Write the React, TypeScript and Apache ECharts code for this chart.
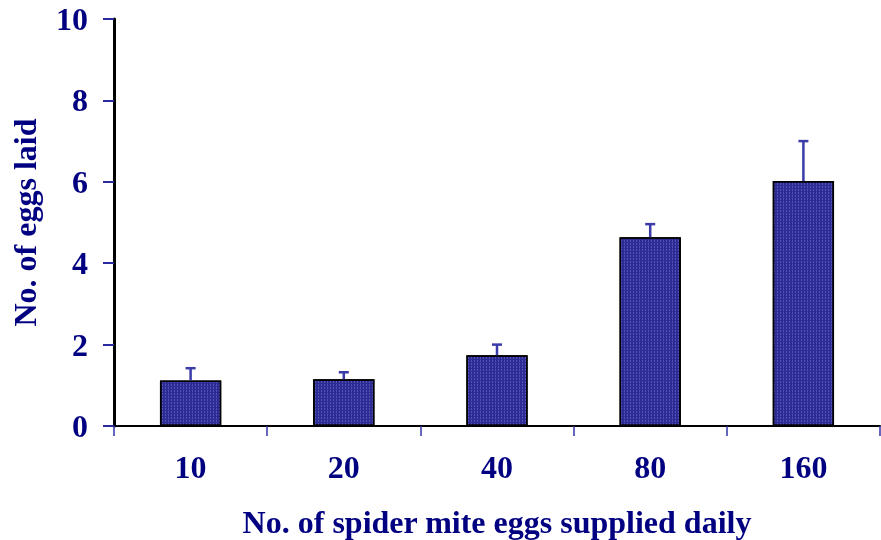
import React, { useEffect, useRef } from "react";
import * as echarts from "echarts";

const categories = ["10", "20", "40", "80", "160"];
const means = [1.12, 1.15, 1.74, 4.64, 6.02];
const errorTops = [1.42, 1.32, 2.0, 4.96, 7.0];
const yTicks = [0, 2, 4, 6, 8, 10];

const NAVY = "#000080";
const FONT = "Liberation Serif";

export default function App() {
  const ref = useRef<HTMLDivElement>(null);
  useEffect(() => {
    if (!ref.current) return;
    const chart = echarts.init(ref.current, undefined, { renderer: "svg" });
    const errData = categories.map((c, i) => [i, means[i], errorTops[i]]);
    chart.setOption({
      animation: false,
      grid: { left: 114, top: 19, right: 1, bottom: 114, containLabel: false, outerBoundsMode: "none" },
      xAxis: {
        type: "category",
        data: categories,
        boundaryGap: true,
        name: "No. of spider mite eggs supplied daily",
        nameLocation: "middle",
        nameGap: 80,
        nameTextStyle: { fontFamily: FONT, fontWeight: "bold", fontSize: 32, color: NAVY },
        axisLine: { lineStyle: { color: "#000", width: 2 } },
        axisTick: { show: true, length: 10, lineStyle: { color: "#3333aa", width: 1.5 } },
        axisLabel: { fontFamily: FONT, fontWeight: "bold", fontSize: 32, color: NAVY, margin: 25 },
      },
      yAxis: {
        type: "value",
        min: 0,
        max: 10,
        interval: 2,
        name: "No. of eggs laid",
        nameLocation: "middle",
        nameGap: 73,
        nameTextStyle: { fontFamily: FONT, fontWeight: "bold", fontSize: 32, color: NAVY },
        splitLine: { show: false },
        axisLine: { show: true, lineStyle: { color: "#000", width: 3 } },
        axisTick: { show: true, length: 11, lineStyle: { color: "#2a2aa0", width: 2 } },
        axisLabel: {
          fontFamily: FONT, fontWeight: "bold", fontSize: 32, color: NAVY, margin: 26,
          formatter: (v: number) => (yTicks.includes(v) ? String(v) : ""),
        },
      },
      series: [
        {
          type: "bar",
          data: means,
          barWidth: "40%",
          itemStyle: {
            color: "#2c2c94",
            borderColor: "#000",
            borderWidth: 1.5,
            decal: {
              symbol: "rect",
              symbolSize: 1,
              dashArrayX: [1, 2],
              dashArrayY: [2, 1],
              color: "rgba(110,110,210,0.55)",
            },
          },
          z: 2,
        },
        {
          type: "custom",
          data: errData,
          z: 3,
          renderItem: (params: any, api: any) => {
            const i = api.value(0);
            const lo = api.coord([i, api.value(1)]);
            const hi = api.coord([i, api.value(2)]);
            const cap = 5;
            const style = { stroke: "#3a3aa8", lineWidth: 2.5 };
            return {
              type: "group",
              children: [
                { type: "line", shape: { x1: lo[0], y1: lo[1], x2: hi[0], y2: hi[1] }, style },
                { type: "line", shape: { x1: hi[0] - cap, y1: hi[1], x2: hi[0] + cap, y2: hi[1] }, style },
              ],
            };
          },
        },
      ],
    });
    return () => chart.dispose();
  }, []);
  return <div ref={ref} style={{ position: "fixed", left: 0, top: 0, width: 881, height: 540 }} />;
}
